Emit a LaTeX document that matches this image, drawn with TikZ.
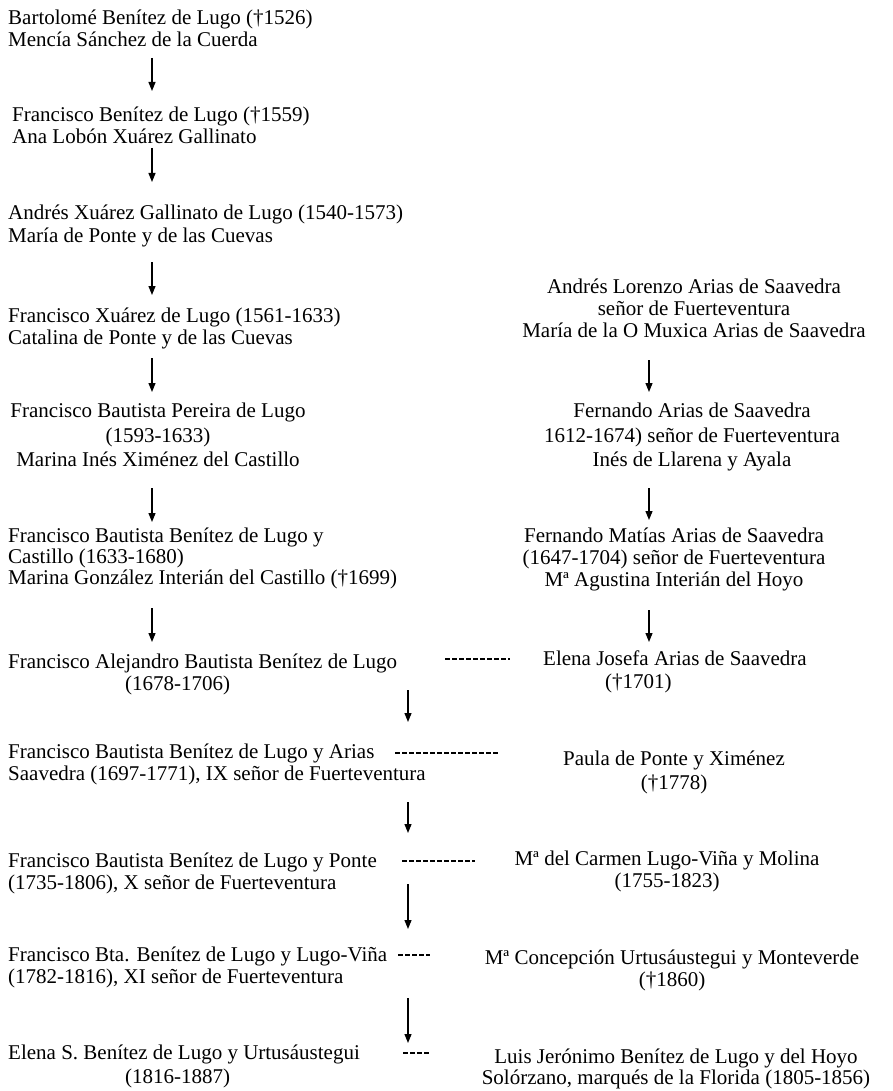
\documentclass[tikz,border=0pt]{standalone}
\usepackage{fontspec}
\setmainfont{Liberation Serif}
\usetikzlibrary{arrows.meta, calc}

\begin{document}
\begin{tikzpicture}[x=1pt, y=-1pt,
  pers/.style={inner sep=0pt, font=\fontsize{21}{22}\selectfont},
  lft/.style={pers, anchor=base west, align=left},
  ctr/.style={pers, anchor=base, align=center},
  arr/.style={-{Triangle[length=9pt, width=7pt]}, line width=1.2pt},
  wed/.style={line width=1.2pt, dash pattern=on 5pt off 2pt}
]
\useasboundingbox (0,0) rectangle (893,1091);
\coordinate (colL) at (152,0);
\coordinate (colR) at (649,0);
\coordinate (colM) at (408,0);

% Benitez de Lugo line (nodes sit on the baseline of their last line)
\node[lft] (b1) at (8,47) {Bartolomé Benítez de Lugo (†1526)\\Mencía Sánchez de la Cuerda};
\node[lft] (b2) at (12,144) {Francisco Benítez de Lugo (†1559)\\Ana Lobón Xuárez Gallinato};
\node[lft] (b3) at (8,242) {Andrés Xuárez Gallinato de Lugo (1540-1573)\\María de Ponte y de las Cuevas};
\node[lft] (b4) at (8,344) {Francisco Xuárez de Lugo (1561-1633)\\Catalina de Ponte y de las Cuevas};
\node[ctr] (b5) at (158,466) {Francisco Bautista Pereira de Lugo\\[3pt](1593-1633)\\[2pt]Marina Inés Ximénez del Castillo};
\node[lft] (b6) at (8,584) {Francisco Bautista Benítez de Lugo y\\[-1pt]Castillo (1633-1680)\\[-1pt]Marina González Interián del Castillo (†1699)};
\node[lft] (b7) at (8,690) {Francisco Alejandro Bautista Benítez de Lugo\\\hspace*{117pt}(1678-1706)};
\node[lft] (b8) at (8,780) {Francisco Bautista Benítez de Lugo y Arias\\Saavedra (1697-1771), IX señor de Fuerteventura};
\node[lft] (b9) at (8,889) {Francisco Bautista Benítez de Lugo y Ponte\\(1735-1806), X señor de Fuerteventura};
\node[lft] (b10) at (8,983) {Francisco Bta. Benítez de Lugo y Lugo-Viña\\(1782-1816), XI señor de Fuerteventura};
\node[lft] (b11) at (8,1083) {Elena S. Benítez de Lugo y Urtusáustegui\\[2pt]\hspace*{117pt}(1816-1887)};

% Arias de Saavedra line
\node[ctr] (s1) at (694,337) {Andrés Lorenzo Arias de Saavedra\\señor de Fuerteventura\\María de la O Muxica Arias de Saavedra};
\node[ctr] (s2) at (692,466) {Fernando Arias de Saavedra\\[3pt]1612-1674) señor de Fuerteventura\\[2pt]Inés de Llarena y Ayala};
\node[ctr] (s3) at (674,586) {Fernando Matías Arias de Saavedra\\(1647-1704) señor de Fuerteventura\\Mª Agustina Interián del Hoyo};

% spouses
\node[lft] (w1) at (543,688) {Elena Josefa Arias de Saavedra\\[1pt]\hspace*{62pt}(†1701)};
\node[ctr] (w2) at (674,789) {Paula de Ponte y Ximénez\\[2pt](†1778)};
\node[ctr] (w3) at (667,887) {Mª del Carmen Lugo-Viña y Molina\\(1755-1823)};
\node[ctr] (w4) at (672,986) {Mª Concepción Urtusáustegui y Monteverde\\(†1860)};
\node[ctr] (w5) at (676,1084) {Luis Jerónimo Benítez de Lugo y del Hoyo\\[-1pt]Solórzano, marqués de la Florida (1805-1856)};

% descent
\draw[arr] ($(b1.base -| colL)+(0,11)$) -- ($(b2.base -| colL)+(0,-53)$);
\draw[arr] ($(b2.base -| colL)+(0,4)$) -- ($(b3.base -| colL)+(0,-60)$);
\draw[arr] ($(b3.base -| colL)+(0,20)$) -- ($(b4.base -| colL)+(0,-49)$);
\draw[arr] ($(b4.base -| colL)+(0,14)$) -- ($(b5.base -| colL)+(0,-74)$);
\draw[arr] ($(b5.base -| colL)+(0,22)$) -- ($(b6.base -| colL)+(0,-62)$);
\draw[arr] ($(b6.base -| colL)+(0,24)$) -- ($(b7.base -| colL)+(0,-48)$);
\draw[arr] ($(s1.base -| colR)+(0,23)$) -- ($(s2.base -| colR)+(0,-74)$);
\draw[arr] ($(s2.base -| colR)+(0,22)$) -- ($(s3.base -| colR)+(0,-66)$);
\draw[arr] ($(s3.base -| colR)+(0,24)$) -- ($(w1.base -| colR)+(0,-46)$);
\draw[arr] ($(b7.base -| colM)+(0,0)$) -- ($(b8.base -| colM)+(0,-58)$);
\draw[arr] ($(b8.base -| colM)+(0,22)$) -- ($(b9.base -| colM)+(0,-56)$);
\draw[arr] ($(b9.base -| colM)+(0,-5)$) -- ($(b10.base -| colM)+(0,-54)$);
\draw[arr] ($(b10.base -| colM)+(0,15)$) -- ($(b11.base -| colM)+(0,-40)$);

% marriages
\draw[wed] ($(b7.base -| 445,0)+(0,-31)$) -- ($(b7.base -| 510,0)+(0,-31)$);
\draw[wed] ($(b8.base -| 395,0)+(0,-27)$) -- ($(b8.base -| 498,0)+(0,-27)$);
\draw[wed] ($(b9.base -| 402,0)+(0,-28)$) -- ($(b9.base -| 475,0)+(0,-28)$);
\draw[wed] ($(b10.base -| 398,0)+(0,-28)$) -- ($(b10.base -| 430,0)+(0,-28)$);
\draw[wed] ($(b11.base -| 403,0)+(0,-30)$) -- ($(b11.base -| 430,0)+(0,-30)$);
\end{tikzpicture}
\end{document}
